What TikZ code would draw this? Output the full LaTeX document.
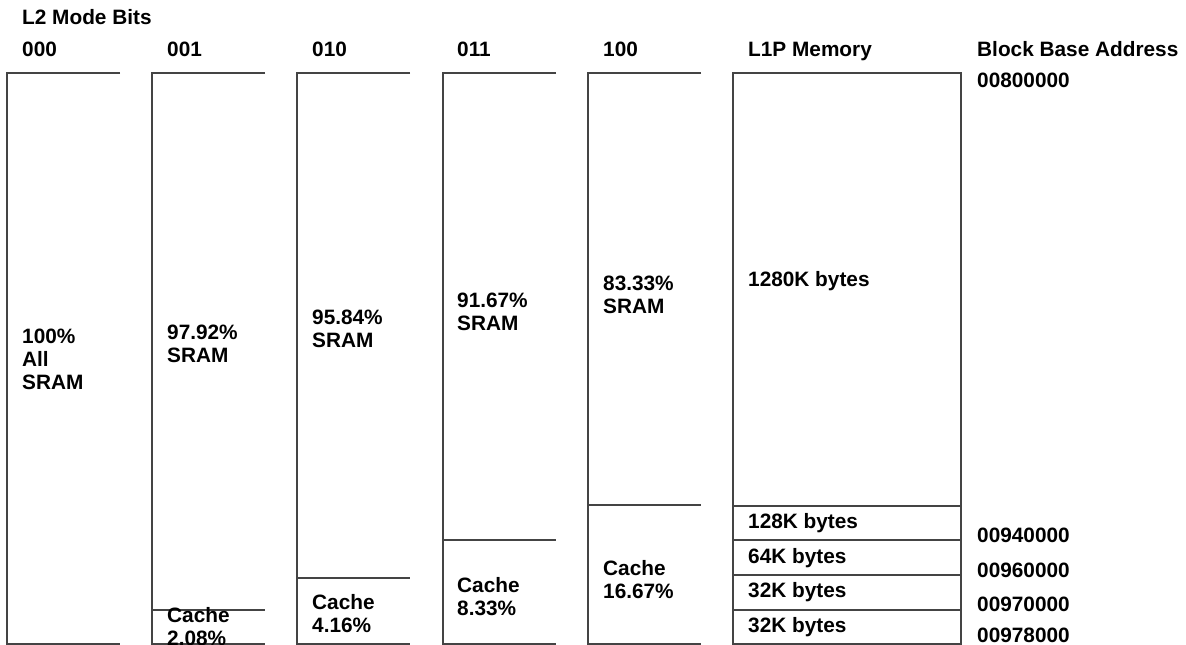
\documentclass[tikz,border=0pt]{standalone}
\usepackage{fontspec}
\setmainfont{Liberation Sans}
\usetikzlibrary{positioning}
\definecolor{rule}{HTML}{444444}

\begin{document}
\begin{tikzpicture}[x=1pt,y=-1pt,lbl/.style={anchor=base west,inner sep=0pt,align=left,font=\fontsize{20.8}{23}\selectfont\bfseries},wall/.style={draw=rule,line width=1.2pt}]
\useasboundingbox (0,0) rectangle (1186,645);
\node[lbl] (title) at (22,24) {L2 Mode Bits};
\foreach \x/\name/\txt in {22/h000/000,167/h001/001,312/h010/010,457/h011/011,603/h100/100,748/hl1p/L1P Memory,977/hbase/Block Base Address}
  \node[lbl] (\name) at (\x,56) {\txt};
% L2 columns, open on the right
\foreach \xl in {7,152,297,443,588}
  \draw[wall] (\xl+113,73) -- (\xl,73) -- (\xl,644) -- (\xl+113,644);
\foreach \xl/\cut in {152/610,297/578,443/540,588/505}
  \draw[wall] (\xl,\cut) -- (\xl+113,\cut);
% multi-line labels sit on the baseline of their last line
\node[lbl] (s000) at (22,389) {100\%\\All\\SRAM};
\node[lbl] (s001) at (167,362) {97.92\%\\SRAM};
\node[lbl] (s010) at (312,347) {95.84\%\\SRAM};
\node[lbl] (s011) at (457,330) {91.67\%\\SRAM};
\node[lbl] (s100) at (603,313) {83.33\%\\SRAM};
\node[lbl] (c001) at (167,645) {Cache\\2.08\%};
\node[lbl] (c010) at (312,632) {Cache\\4.16\%};
\node[lbl] (c011) at (457,615) {Cache\\8.33\%};
\node[lbl] (c100) at (603,598) {Cache\\16.67\%};
% L1P memory blocks
\draw[wall] (733,73) rectangle (961,644);
\foreach \cut in {506,540,575,610}
  \draw[wall] (733,\cut) -- (961,\cut);
\node[lbl] (b1280) at (748,286) {1280K bytes};
\node[lbl] (b128) at (748,528) {128K bytes};
\node[lbl] (b64) at (748,563) {64K bytes};
\node[lbl] (b32a) at (748,597) {32K bytes};
\node[lbl] (b32b) at (748,632) {32K bytes};
% base addresses
\foreach \y/\name/\addr in {87/a0/00800000,542/a1/00940000,577/a2/00960000,611/a3/00970000,642/a4/00978000}
  \node[lbl] (\name) at (977,\y) {\addr};
\end{tikzpicture}
\end{document}
